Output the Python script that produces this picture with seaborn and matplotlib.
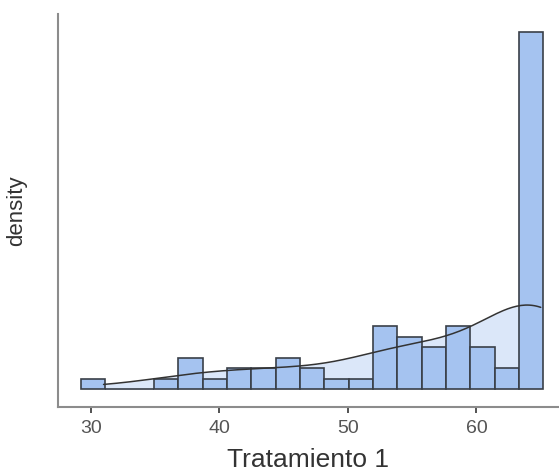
import numpy as np
import matplotlib
matplotlib.use("Agg")
import matplotlib.pyplot as plt
import seaborn as sns

# Observed scores and how many times each occurs
scores = [31, 36, 37, 38, 40, 41, 42, 43, 44, 45, 46, 47, 48, 50, 51,
          52, 53, 54, 55, 56, 57, 58, 59, 60, 61, 62, 63, 64, 65]
freqs = [1, 1, 1, 2, 1, 1, 1, 1, 1, 1, 2, 1, 1, 1, 1,
         3, 3, 2, 3, 2, 2, 3, 3, 2, 2, 1, 1, 4, 30]

# Histogram binning
bin_lo, bin_hi, n_bins = 29.25, 65.19, 19

x_label = "Tratamiento 1"
y_label = "density"
x_ticks = [30, 40, 50, 60]

values = np.repeat(scores, freqs).astype(float)
edges = np.linspace(bin_lo, bin_hi, n_bins + 1)

sns.set_style("white")
plt.rcParams["font.family"] = ["Liberation Sans", "DejaVu Sans"]

fig = plt.figure(figsize=(5.59, 4.73), dpi=100)
ax = fig.add_axes([0.1029, 0.1385, 0.8971, 0.8319])

bar_color = "#a5c3f0"
line_color = "#333333"

# Pale density area sits behind the bars
sns.kdeplot(x=values, cut=0, fill=True, color=bar_color, alpha=0.4,
            linewidth=0, ax=ax, zorder=1)
sns.histplot(x=values, bins=edges, stat="density", color=bar_color,
             alpha=1.0, edgecolor="#3a3f48", linewidth=1.2, ax=ax, zorder=2)
# Density outline drawn over the bars
sns.kdeplot(x=values, cut=0, color=line_color, linewidth=1.1, ax=ax, zorder=3)

# Axis limits expressed in count units, converted to density
scale = len(values) * (edges[1] - edges[0])
ax.set_ylim(-1.76 / scale, 35.75 / scale)
ax.set_xlim(27.42, 66.42)

ax.set_xticks(x_ticks)
ax.set_yticks([])
ax.tick_params(axis="x", length=4, width=1.3, color="#444444",
               labelsize=14, labelcolor="#555555", pad=5, bottom=True)

for side in ["top", "right"]:
    ax.spines[side].set_visible(False)
for side in ["left", "bottom"]:
    ax.spines[side].set_color("#8c8c8c")
    ax.spines[side].set_linewidth(1.5)

ax.set_xlabel(x_label, fontsize=19, color="#333333", labelpad=8)
ax.set_ylabel(y_label, fontsize=16, color="#333333", labelpad=22)

fig.savefig("out.png", dpi=100)
